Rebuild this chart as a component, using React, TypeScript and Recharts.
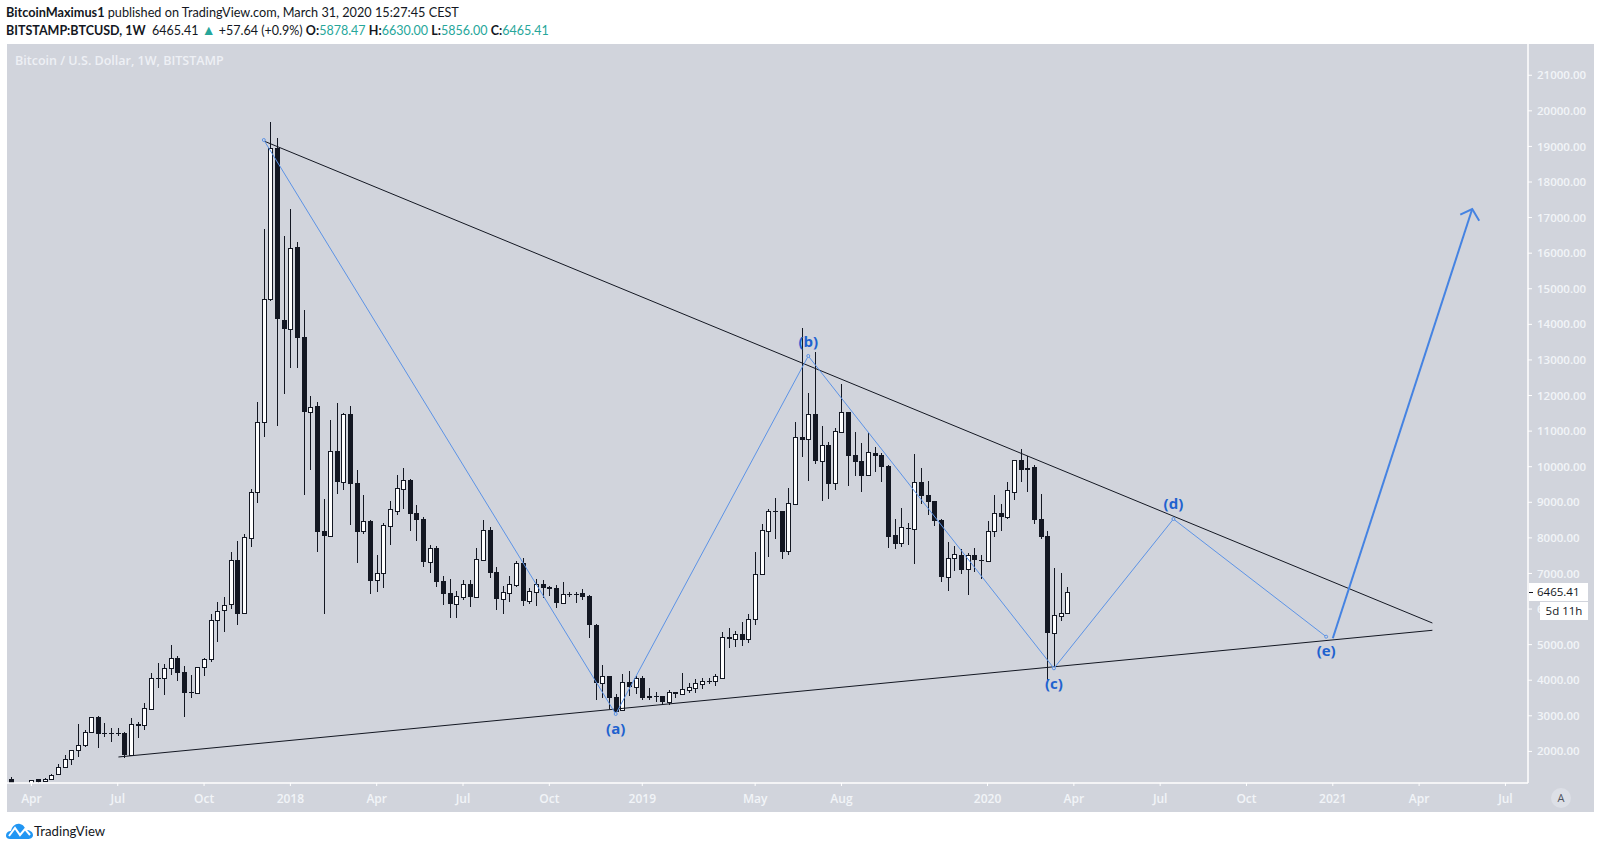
import React from "react"
import { ComposedChart, Bar, Line, XAxis, YAxis, ReferenceDot } from "recharts"

const opens = [
  1230, 1040, 960, 1075, 1215, 1158, 1233, 1355, 1552, 1776,
  2029, 2170, 2535, 2957, 2499, 2505, 2505, 2516, 1898, 2770,
  2751, 3200, 4053, 4053, 4334, 4615, 4221, 3660, 3650, 4362,
  4587, 5682, 5964, 6132, 7369, 5879, 8005, 9279, 11246, 14703,
  18955, 14122, 13878, 16173, 13635, 11546, 11705, 8183, 8061, 10440,
  9579, 11480, 9532, 8202, 8474, 6806, 7022, 8343, 8764, 9382,
  9626, 8689, 8530, 7331, 7706, 6778, 6450, 6141, 6347, 6703,
  6347, 7378, 8221, 7041, 6282, 6460, 6685, 7284, 6235, 6488,
  6703, 6619, 6591, 6170, 6422, 6422, 6450, 6366, 5551, 3931,
  4118, 3519, 3172, 3940, 3819, 4062, 3556, 3556, 3556, 3397,
  3659, 3622, 3734, 3790, 3903, 3968, 3968, 4071, 5205, 5149,
  5289, 5149, 5711, 6990, 8183, 8745, 8745, 7621, 8961, 10834,
  10769, 11471, 10169, 10609, 9532, 10984, 11527, 10328, 10160, 9757,
  10384, 10328, 10019, 8080, 7865, 8258, 8240, 9570, 9204, 9036,
  8502, 6891, 7425, 7509, 7116, 7509, 7369, 7340, 8183, 8689,
  8596, 9298, 10179, 9963, 9991, 8530, 8052, 5336, 5814, 5878.47,
]
const highs = [
  1270, 1120, 1095, 1205, 1233, 1240, 1355, 1645, 1888, 2040,
  2769, 2601, 2976, 2994, 2797, 2648, 2648, 2554, 2938, 2826,
  3350, 4193, 4474, 4446, 4989, 4671, 4390, 4146, 4380, 4615,
  5851, 6198, 6348, 7593, 7912, 8099, 9373, 11818, 16679, 19676,
  19236, 16482, 17241, 16314, 14403, 11986, 11818, 9092, 11312, 11780,
  11508, 11705, 9906, 9204, 8502, 7518, 8408, 9036, 9766, 9963,
  9654, 8923, 8586, 7799, 7771, 6928, 6844, 6507, 6816, 6816,
  7715, 8502, 8305, 7181, 6647, 6928, 7350, 7434, 6591, 6844,
  6816, 6647, 6675, 6760, 6478, 6478, 6563, 6394, 5579, 4418,
  4118, 3612, 4165, 4259, 4109, 4118, 3781, 3669, 3556, 3725,
  3659, 4203, 3922, 4034, 4062, 4062, 4174, 5355, 5467, 5383,
  5636, 5861, 7593, 8380, 8802, 9120, 8745, 9392, 11246, 13888,
  12061, 13213, 11134, 10684, 11087, 12324, 11546, 10975, 10666, 10946,
  10553, 10384, 10047, 8530, 8830, 8408, 10357, 9963, 9598, 9036,
  8530, 7884, 7771, 7678, 7565, 7715, 7518, 8474, 9204, 8952,
  9570, 10179, 10497, 10300, 10047, 9232, 8193, 7153, 7013, 6630,
]
const lows = [
  950, 890, 950, 1040, 1120, 1150, 1233, 1345, 1540, 1627,
  1851, 2114, 2535, 2104, 2413, 2264, 2441, 1823, 1880, 2376,
  2601, 3172, 3781, 3584, 4156, 3978, 2975, 3500, 3650, 4118,
  4521, 5083, 5364, 6001, 5561, 5860, 7752, 8989, 10843, 14665,
  11153, 12052, 12782, 12782, 9213, 9916, 7612, 5873, 8061, 9241,
  9344, 8370, 7303, 8118, 6432, 6488, 6600, 7799, 8642, 8811,
  8193, 7921, 7181, 7012, 6619, 6113, 5748, 5748, 6254, 6057,
  6310, 7350, 6872, 5973, 5860, 6198, 6619, 6085, 6141, 6085,
  6310, 6366, 6029, 6141, 6338, 6170, 6254, 5186, 3444, 3500,
  3191, 3022, 3172, 3556, 3612, 3444, 3444, 3388, 3303, 3303,
  3500, 3584, 3650, 3640, 3753, 3893, 3837, 4043, 4905, 4933,
  4961, 5046, 5551, 6960, 7471, 7977, 7415, 7518, 8914, 10281,
  9598, 10085, 9036, 9092, 9345, 10984, 9457, 9738, 9289, 9757,
  9851, 9570, 7715, 7687, 7753, 7799, 7275, 8952, 8642, 8333,
  6760, 6507, 7069, 6984, 6394, 7041, 6844, 7340, 8024, 8193,
  8530, 9064, 9570, 9289, 8389, 7968, 4000, 4380, 5664, 5856,
]
const closes = [
  1040, 960, 1075, 1195, 1149, 1233, 1345, 1552, 1776, 2029,
  2170, 2535, 2957, 2499, 2510, 2512, 2498, 1898, 2760, 2723,
  3210, 4053, 4060, 4334, 4615, 4212, 3650, 3650, 4380, 4587,
  5682, 5954, 6123, 7369, 5870, 8015, 9279, 11246, 14703, 18946,
  14159, 13878, 16136, 13616, 11546, 11686, 8174, 8061, 10431, 9579,
  11471, 9522, 8174, 8464, 6797, 7022, 8352, 8802, 9392, 9617,
  8680, 8502, 7322, 7706, 6760, 6422, 6141, 6357, 6694, 6338,
  7397, 8212, 7013, 6282, 6469, 6694, 7284, 6226, 6497, 6703,
  6591, 6572, 6170, 6422, 6425, 6425, 6338, 5561, 3931, 4109,
  3500, 3116, 3940, 3809, 4053, 3500, 3500, 3552, 3388, 3659,
  3622, 3744, 3800, 3912, 3968, 3972, 4109, 5205, 5167, 5289,
  5139, 5711, 6975, 8211, 8745, 8750, 7612, 8970, 10825, 10759,
  11471, 10169, 10600, 9523, 10993, 11527, 10310, 10132, 9748, 10403,
  10310, 9991, 8024, 7827, 8296, 8265, 9560, 9176, 9008, 8483,
  6900, 7425, 7537, 7106, 7509, 7387, 7375, 8183, 8689, 8596,
  9335, 10179, 9916, 9916, 8502, 8034, 5336, 5823, 5879, 6465.41,
]

const priceTicks = [
  2000, 3000, 4000, 5000, 6000, 7000, 8000, 9000, 10000, 11000, 12000,
  13000, 14000, 15000, 16000, 17000, 18000, 19000, 20000, 21000,
]
const timeTicks = [3, 16, 29, 42, 55, 68, 81, 95, 112, 125, 147, 160, 173, 186, 199, 212, 225]
const timeLabels = ["Apr", "Jul", "Oct", "2018", "Apr", "Jul", "Oct", "2019", "May", "Aug", "2020", "Apr", "Jul", "Oct", "2021", "Apr", "Jul"]

// trendlines and wave count, week index / price
const upperTrend = [{ week: 38, price: 19152 }, { week: 214, price: 5608 }]
const lowerTrend = [{ week: 16.1, price: 1843 }, { week: 214, price: 5403 }]
const waves = [
  { week: 38, price: 19180 },
  { week: 91, price: 3051 },
  { week: 120, price: 13111 },
  { week: 157, price: 4335 },
  { week: 175, price: 8530 },
  { week: 198, price: 5223 },
]
const arrowShaft = [{ week: 199, price: 5178 }, { week: 220, price: 17241 }]
const arrowHead = [
  { week: 218.2, price: 17081 },
  { week: 220, price: 17241 },
  { week: 221.05, price: 16913 },
]
const waveLabels = [
  { text: "(a)", week: 91, price: 2630 },
  { text: "(b)", week: 120, price: 13510 },
  { text: "(c)", week: 157, price: 3910 },
  { text: "(d)", week: 175, price: 8960 },
  { text: "(e)", week: 198, price: 4830 },
]

const candles = opens.map((open, i) => ({
  week: i,
  open,
  high: highs[i],
  low: lows[i],
  close: closes[i],
  range: [lows[i], highs[i]],
}))

const INK = "#131722"
const PANEL = "#d1d4dc"
const AXIS_TEXT = "#f2f4f8"
const BLUE = "#5c93e6"
const LABEL_BLUE = "#1f62cf"
const GREEN = "#26a69a"

function Candle(props: any) {
  const { x, y, width, height, payload } = props
  const cx = Math.round(x + width / 2)
  const perPrice = height / (payload.high - payload.low)
  const top = y + (payload.high - Math.max(payload.open, payload.close)) * perPrice
  const bottom = y + (payload.high - Math.min(payload.open, payload.close)) * perPrice
  const up = payload.close >= payload.open
  const t = Math.round(top)
  const h = Math.max(Math.round(bottom) - t, 1)
  return (
    <g shapeRendering="crispEdges">
      <rect x={cx} y={y} width={1} height={height} fill={INK} />
      {up && h > 1 ? (
        <rect x={cx - 1.5} y={t + 0.5} width={4} height={h} fill="#fff" stroke={INK} strokeWidth={1} />
      ) : (
        <rect x={cx - 2} y={t} width={5} height={Math.max(h, 2) - (h > 1 ? 0 : 1)} fill={INK} />
      )}
    </g>
  )
}

function TimeTick(props: any) {
  const { x, y, index } = props
  return (
    <text x={x} y={y + 15} textAnchor="middle" fontSize={12} fontWeight={600} fontFamily="'Open Sans'" fill={AXIS_TEXT}>
      {timeLabels[index]}
    </text>
  )
}

function Logo() {
  return (
    <svg width="27" height="16" viewBox="0 0 27 16" style={{ position: "absolute", left: 6, top: 823 }}>
      <path d="M0 13 C0 9 3 8 5 8 C6 3 10 0 14 1 C18 2 19 5 20 7 C24 7 27 9 27 12 C27 15 24 16 22 16 L4 16 C2 16 0 15 0 13 Z" fill="#2196f3" />
      <path d="M3 13 L9 5 L14 12 L19 6 L24 12" fill="none" stroke="#fff" strokeWidth="2" />
    </svg>
  )
}

const boxStyle: React.CSSProperties = {
  position: "absolute",
  background: "#fff",
  color: INK,
  fontFamily: "'Open Sans'",
  fontSize: 11.5,
}

export default function App() {
  return (
    <div style={{ position: "absolute", left: 0, top: 0, width: 1601, height: 849, background: "#fff", overflow: "hidden" }}>
      <div style={{ position: "absolute", left: 6, top: 4, fontFamily: "Lato", fontSize: 12.7, color: INK, whiteSpace: "nowrap" }}>
        <b>BitcoinMaximus1</b> published on TradingView.com, March 31, 2020 15:27:45 CEST
      </div>
      <div style={{ position: "absolute", left: 6, top: 21, fontFamily: "Lato", fontSize: 12.5, color: INK, whiteSpace: "nowrap" }}>
        <b>BITSTAMP:BTCUSD, 1W</b>&nbsp; 6465.41 <span style={{ color: GREEN, fontSize: 14 }}>▲</span> +57.64 (+0.9%) <b>O:</b>
        <span style={{ color: GREEN }}>5878.47</span> <b>H:</b><span style={{ color: GREEN }}>6630.00</span> <b>L:</b>
        <span style={{ color: GREEN }}>5856.00</span> <b>C:</b><span style={{ color: GREEN }}>6465.41</span>
      </div>

      <div style={{ position: "absolute", left: 7, top: 44, width: 1587, height: 768, background: PANEL }} />
      <div style={{ position: "absolute", left: 15, top: 52, fontFamily: "'Open Sans'", fontSize: 12.5, fontWeight: 600, color: "#eef0f5", whiteSpace: "nowrap" }}>
        Bitcoin / U.S. Dollar, 1W, BITSTAMP
      </div>

      <div style={{ position: "absolute", left: 0, top: 0 }}>
        <ComposedChart
          width={1601}
          height={849}
          data={candles}
          margin={{ top: 44, right: 7, bottom: 37, left: 7 }}
        >
          <XAxis
            dataKey="week"
            type="number"
            domain={[-0.68, 228.4]}
            ticks={timeTicks}
            interval={0}
            height={29}
            tick={<TimeTick />}
            tickSize={3}
            axisLine={{ stroke: "#fff", strokeWidth: 1.5 }}
            tickLine={{ stroke: "#fff" }}
            allowDataOverflow
          />
          <YAxis
            orientation="right"
            type="number"
            domain={[1112, 21878]}
            ticks={priceTicks}
            interval={0}
            width={66}
            tickSize={4}
            tickMargin={5}
            tickFormatter={(v: number) => v.toFixed(2)}
            tick={{ fill: AXIS_TEXT, fontSize: 11.5, fontFamily: "'Open Sans'", fontWeight: 600 }}
            axisLine={{ stroke: "#fff", strokeWidth: 1.5 }}
            tickLine={{ stroke: "#fff" }}
            allowDataOverflow
          />
          <Bar dataKey="range" barSize={5} shape={<Candle />} isAnimationActive={false} />
          <Line data={upperTrend} dataKey="price" type="linear" stroke={INK} strokeWidth={1} dot={false} isAnimationActive={false} />
          <Line data={lowerTrend} dataKey="price" type="linear" stroke={INK} strokeWidth={1} dot={false} isAnimationActive={false} />
          <Line
            data={waves}
            dataKey="price"
            type="linear"
            stroke={BLUE}
            strokeWidth={1}
            dot={{ r: 1.5, fill: PANEL, stroke: BLUE, strokeWidth: 1 }}
            isAnimationActive={false}
          />
          <Line data={arrowShaft} dataKey="price" type="linear" stroke="#4583e2" strokeWidth={2} dot={false} isAnimationActive={false} />
          <Line data={arrowHead} dataKey="price" type="linear" stroke="#4583e2" strokeWidth={2} dot={false} isAnimationActive={false} />
          {waveLabels.map((w) => (
            <ReferenceDot
              key={w.text}
              x={w.week}
              y={w.price}
              r={0}
              stroke="none"
              label={{ value: w.text, position: "center", fill: LABEL_BLUE, fontSize: 15, fontWeight: 700, fontFamily: "'Open Sans'" }}
            />
          ))}
        </ComposedChart>
      </div>

      <div style={{ ...boxStyle, left: 1529, top: 583, width: 59, height: 18, lineHeight: "18px", textIndent: 8 }}>6465.41</div>
      <div style={{ position: "absolute", left: 1529, top: 592, width: 4, height: 1, background: INK }} />
      <div style={{ ...boxStyle, left: 1540, top: 602, width: 48, height: 18, lineHeight: "18px", textAlign: "center" }}>5d 11h</div>

      <div style={{ position: "absolute", left: 1551, top: 788, width: 20, height: 20, borderRadius: 10, background: "#dcdfe6", color: "#50535e", fontFamily: "'Open Sans'", fontSize: 11, lineHeight: "20px", textAlign: "center" }}>A</div>

      <Logo />
      <div style={{ position: "absolute", left: 34, top: 823, fontFamily: "Lato", fontSize: 13.2, color: INK }}>TradingView</div>
    </div>
  )
}
